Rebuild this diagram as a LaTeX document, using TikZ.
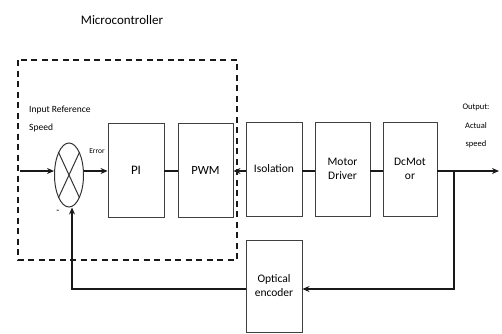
\documentclass[tikz,border=0pt]{standalone}
\usepackage{fontspec}
\setmainfont{Carlito}
\usetikzlibrary{shapes.geometric,arrows.meta}
\begin{document}
\begin{tikzpicture}[x=1pt,y=-1pt,
  blk/.style={draw=black!75,line width=0.9pt,minimum width=56pt,minimum height=94pt,inner sep=1pt,align=center,font=\fontsize{11.5}{14}\selectfont},
  conn/.style={draw=black!90,line width=1.5pt},
  arr/.style={conn,-{Stealth[length=7pt,width=6pt]}},
  lbl/.style={font=\fontsize{9.5}{10}\selectfont,inner sep=0pt}]
\useasboundingbox (0,0) rectangle (502,333);
\node[font=\fontsize{13}{15}\selectfont] (title) at (122,20) {Microcontroller};
\draw[black!90,line width=2pt,dash pattern=on 6pt off 4.5pt] (18,60) rectangle (237,260);
\node[draw=black!80,line width=1pt,ellipse,minimum width=29pt,minimum height=64pt,inner sep=0pt] (sum) at (69,175) {};
\draw[black!80,line width=1pt] (sum.north west) -- (sum.south east) (sum.north east) -- (sum.south west);
\coordinate (in) at (20,171);
\node[blk,font=\fontsize{13}{15}\selectfont] (pi) at (136,170) {PI};
\node[blk,minimum width=55pt,font=\fontsize{12.5}{14}\selectfont] (pwm) at (205.5,170) {PWM};
\node[blk] (iso) at (274,169) {Isolation};
\node[blk,minimum width=55pt] (md) at (342.5,169) {Motor\\Driver};
\node[blk,minimum width=54pt] (dc) at (410,169) {DcMot\\or};
\node[blk,minimum height=92pt] (enc) at (274,286) {Optical\\encoder};
\coordinate (out) at (499,171);
\coordinate (br) at (454,171);
\coordinate (fb) at (454,289);
\coordinate (fbl) at (72,289);
\draw[arr] (in) -- (sum.west |- in);
\draw[arr] (sum.east |- in) -- (pi.west |- in);
\draw[conn] (pi.east |- in) -- (pwm.west |- in);
\draw[arr] (iso.west |- in) -- (pwm.east |- in);
\draw[conn] (iso.east |- in) -- (md.west |- in);
\draw[conn] (md.east |- in) -- (dc.west |- in);
\draw[arr] (dc.east |- in) -- (out);
\draw[arr] (br) -- (fb) -- (fb -| enc.east);
\draw[arr] (enc.west |- fb) -- (fbl) -- (fbl |- sum.south);
\node[lbl,anchor=west] (inlbl1) at (29,110) {Input Reference};
\node[lbl,anchor=west] (inlbl2) at (29,128) {Speed};
\node[lbl,font=\fontsize{7.5}{8}\selectfont] (err) at (97,151) {Error};
\node[lbl,font=\fontsize{10}{10}\selectfont] (minus) at (58,212) {-};
\node[lbl,align=center,font=\fontsize{8.5}{18.5}\selectfont] (outlbl) at (476,126) {Output:\\Actual\\speed};
\end{tikzpicture}
\end{document}
